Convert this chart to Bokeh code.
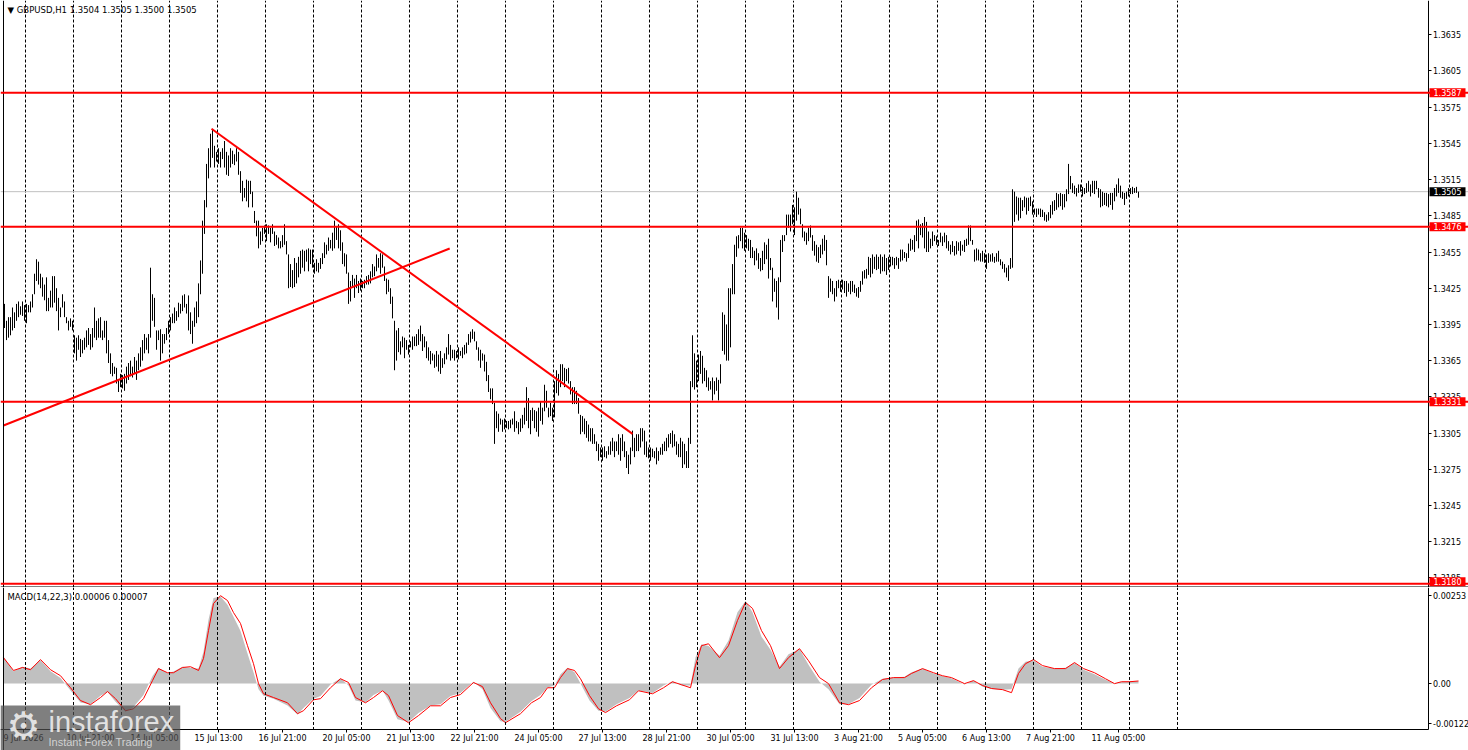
from bokeh.plotting import figure
from bokeh.models import (Range1d, FixedTicker, Span, Label, NumeralTickFormatter,
                          ColumnDataSource, Grid, LinearAxis)
from bokeh.layouts import column
from bokeh.embed import file_html
from bokeh.resources import INLINE

# ---------------- texts ----------------
symbol_title = "\u25bc GBPUSD,H1  1.3504 1.3505 1.3500 1.3505"
macd_title = "MACD(14,22,3) 0.00006 0.00007"

# ---------------- hourly bars (GBPUSD H1) ----------------
high = [
    1.3412, 1.3398, 1.3401, 1.3401, 1.3409, 1.3405, 1.3412, 1.3414, 1.3410, 1.3414,
    1.3411, 1.3412, 1.3411, 1.3414, 1.3420, 1.3437, 1.3449, 1.3447, 1.3437, 1.3434,
    1.3428, 1.3434, 1.3417, 1.3423, 1.3435, 1.3435, 1.3425, 1.3417, 1.3409, 1.3420,
    1.3414, 1.3401, 1.3398, 1.3400, 1.3398, 1.3386, 1.3384, 1.3386, 1.3383, 1.3382,
    1.3384, 1.3390, 1.3392, 1.3387, 1.3392, 1.3409, 1.3398, 1.3400, 1.3401, 1.3390,
    1.3398, 1.3398, 1.3382, 1.3371, 1.3363, 1.3360, 1.3359, 1.3349, 1.3354, 1.3353,
    1.3354, 1.3360, 1.3363, 1.3365, 1.3360, 1.3368, 1.3365, 1.3371, 1.3376, 1.3382,
    1.3387, 1.3384, 1.3387, 1.3442, 1.3420, 1.3417, 1.3390, 1.3390, 1.3391, 1.3387,
    1.3387, 1.3392, 1.3398, 1.3401, 1.3404, 1.3409, 1.3406, 1.3413, 1.3412, 1.3419,
    1.3420, 1.3412, 1.3419, 1.3405, 1.3398, 1.3409, 1.3414, 1.3429, 1.3448, 1.3481,
    1.3498, 1.3528, 1.3541, 1.3553, 1.3557, 1.3543, 1.3538, 1.3541, 1.3538, 1.3541,
    1.3547, 1.3538, 1.3535, 1.3541, 1.3539, 1.3536, 1.3541, 1.3538, 1.3522, 1.3514,
    1.3508, 1.3515, 1.3514, 1.3514, 1.3505, 1.3489, 1.3481, 1.3481, 1.3472, 1.3475,
    1.3477, 1.3478, 1.3477, 1.3475, 1.3478, 1.3472, 1.3469, 1.3467, 1.3464, 1.3469,
    1.3478, 1.3464, 1.3453, 1.3445, 1.3440, 1.3450, 1.3446, 1.3451, 1.3456, 1.3457,
    1.3456, 1.3457, 1.3458, 1.3457, 1.3457, 1.3446, 1.3449, 1.3446, 1.3450, 1.3454,
    1.3463, 1.3461, 1.3467, 1.3465, 1.3471, 1.3481, 1.3476, 1.3478, 1.3473, 1.3463,
    1.3454, 1.3453, 1.3438, 1.3431, 1.3436, 1.3433, 1.3436, 1.3431, 1.3433, 1.3431,
    1.3432, 1.3435, 1.3436, 1.3439, 1.3445, 1.3443, 1.3453, 1.3450, 1.3454, 1.3453,
    1.3443, 1.3433, 1.3432, 1.3425, 1.3418, 1.3398, 1.3390, 1.3392, 1.3381, 1.3385,
    1.3384, 1.3382, 1.3378, 1.3381, 1.3385, 1.3385, 1.3387, 1.3391, 1.3394, 1.3387,
    1.3385, 1.3381, 1.3376, 1.3373, 1.3371, 1.3370, 1.3373, 1.3370, 1.3373, 1.3367,
    1.3371, 1.3376, 1.3387, 1.3378, 1.3374, 1.3374, 1.3373, 1.3376, 1.3373, 1.3376,
    1.3378, 1.3380, 1.3387, 1.3389, 1.3391, 1.3389, 1.3381, 1.3376, 1.3374, 1.3371,
    1.3370, 1.3364, 1.3353, 1.3342, 1.3342, 1.3330, 1.3323, 1.3321, 1.3317, 1.3316,
    1.3317, 1.3315, 1.3315, 1.3316, 1.3317, 1.3323, 1.3315, 1.3314, 1.3317, 1.3320,
    1.3326, 1.3343, 1.3334, 1.3324, 1.3326, 1.3324, 1.3323, 1.3326, 1.3331, 1.3326,
    1.3345, 1.3340, 1.3326, 1.3330, 1.3326, 1.3348, 1.3357, 1.3354, 1.3362, 1.3362,
    1.3359, 1.3358, 1.3359, 1.3348, 1.3343, 1.3343, 1.3340, 1.3334, 1.3320, 1.3319,
    1.3317, 1.3315, 1.3312, 1.3309, 1.3309, 1.3304, 1.3298, 1.3296, 1.3293, 1.3293,
    1.3294, 1.3290, 1.3294, 1.3298, 1.3301, 1.3298, 1.3298, 1.3304, 1.3301, 1.3304,
    1.3298, 1.3290, 1.3287, 1.3293, 1.3307, 1.3301, 1.3304, 1.3304, 1.3309, 1.3309,
    1.3307, 1.3298, 1.3293, 1.3293, 1.3292, 1.3290, 1.3293, 1.3290, 1.3293, 1.3296,
    1.3298, 1.3301, 1.3304, 1.3305, 1.3307, 1.3304, 1.3298, 1.3296, 1.3301, 1.3298,
    1.3296, 1.3290, 1.3301, 1.3348, 1.3386, 1.3371, 1.3365, 1.3370, 1.3373, 1.3369,
    1.3359, 1.3357, 1.3351, 1.3348, 1.3351, 1.3348, 1.3351, 1.3349, 1.3362, 1.3405,
    1.3403, 1.3395, 1.3425, 1.3425, 1.3445, 1.3461, 1.3468, 1.3469, 1.3475, 1.3475,
    1.3471, 1.3469, 1.3466, 1.3465, 1.3459, 1.3456, 1.3458, 1.3454, 1.3450, 1.3456,
    1.3463, 1.3461, 1.3466, 1.3450, 1.3442, 1.3433, 1.3431, 1.3434, 1.3465, 1.3469,
    1.3469, 1.3486, 1.3486, 1.3486, 1.3494, 1.3492, 1.3505, 1.3500, 1.3491, 1.3478,
    1.3472, 1.3471, 1.3475, 1.3477, 1.3469, 1.3464, 1.3461, 1.3459, 1.3461, 1.3466,
    1.3469, 1.3465, 1.3435, 1.3433, 1.3431, 1.3425, 1.3431, 1.3432, 1.3431, 1.3432,
    1.3431, 1.3431, 1.3429, 1.3431, 1.3431, 1.3428, 1.3425, 1.3426, 1.3431, 1.3439,
    1.3440, 1.3441, 1.3451, 1.3450, 1.3453, 1.3451, 1.3453, 1.3451, 1.3453, 1.3451,
    1.3453, 1.3450, 1.3451, 1.3451, 1.3451, 1.3450, 1.3451, 1.3450, 1.3457, 1.3457,
    1.3455, 1.3454, 1.3462, 1.3466, 1.3465, 1.3469, 1.3481, 1.3482, 1.3478, 1.3479,
    1.3484, 1.3480, 1.3472, 1.3466, 1.3472, 1.3469, 1.3468, 1.3465, 1.3471, 1.3468,
    1.3471, 1.3469, 1.3464, 1.3461, 1.3464, 1.3460, 1.3464, 1.3463, 1.3464, 1.3461,
    1.3465, 1.3466, 1.3477, 1.3477, 1.3465, 1.3457, 1.3458, 1.3457, 1.3454, 1.3456,
    1.3454, 1.3453, 1.3454, 1.3453, 1.3454, 1.3451, 1.3454, 1.3456, 1.3449, 1.3447,
    1.3445, 1.3442, 1.3444, 1.3450, 1.3507, 1.3505, 1.3501, 1.3500, 1.3500, 1.3498,
    1.3501, 1.3500, 1.3500, 1.3501, 1.3497, 1.3491, 1.3491, 1.3491, 1.3491, 1.3490,
    1.3488, 1.3486, 1.3488, 1.3494, 1.3497, 1.3498, 1.3504, 1.3503, 1.3504, 1.3503,
    1.3503, 1.3507, 1.3528, 1.3518, 1.3512, 1.3510, 1.3508, 1.3511, 1.3511, 1.3509,
    1.3508, 1.3512, 1.3514, 1.3511, 1.3514, 1.3514, 1.3514, 1.3508, 1.3507, 1.3505,
    1.3504, 1.3504, 1.3503, 1.3504, 1.3504, 1.3508, 1.3511, 1.3516, 1.3510, 1.3505,
    1.3504, 1.3505, 1.3508, 1.3508, 1.3509, 1.3508, 1.3509, 1.3505,
]
low = [
    1.3392, 1.3382, 1.3384, 1.3386, 1.3390, 1.3392, 1.3398, 1.3401, 1.3403, 1.3402,
    1.3398, 1.3396, 1.3405, 1.3405, 1.3409, 1.3420, 1.3431, 1.3428, 1.3425, 1.3418,
    1.3415, 1.3406, 1.3406, 1.3409, 1.3409, 1.3413, 1.3406, 1.3390, 1.3401, 1.3409,
    1.3401, 1.3396, 1.3390, 1.3393, 1.3390, 1.3371, 1.3365, 1.3374, 1.3368, 1.3371,
    1.3374, 1.3376, 1.3378, 1.3374, 1.3376, 1.3384, 1.3382, 1.3384, 1.3384, 1.3382,
    1.3384, 1.3371, 1.3363, 1.3354, 1.3352, 1.3354, 1.3346, 1.3339, 1.3343, 1.3342,
    1.3340, 1.3346, 1.3349, 1.3352, 1.3351, 1.3354, 1.3349, 1.3357, 1.3360, 1.3365,
    1.3371, 1.3374, 1.3371, 1.3384, 1.3398, 1.3393, 1.3374, 1.3382, 1.3365, 1.3371,
    1.3379, 1.3382, 1.3387, 1.3390, 1.3396, 1.3396, 1.3398, 1.3401, 1.3404, 1.3406,
    1.3409, 1.3404, 1.3390, 1.3387, 1.3379, 1.3393, 1.3396, 1.3401, 1.3420, 1.3437,
    1.3470, 1.3492, 1.3516, 1.3525, 1.3533, 1.3525, 1.3530, 1.3528, 1.3525, 1.3532,
    1.3525, 1.3519, 1.3518, 1.3525, 1.3528, 1.3527, 1.3530, 1.3519, 1.3504, 1.3497,
    1.3500, 1.3497, 1.3492, 1.3503, 1.3492, 1.3479, 1.3468, 1.3458, 1.3461, 1.3464,
    1.3470, 1.3464, 1.3470, 1.3463, 1.3470, 1.3460, 1.3461, 1.3458, 1.3458, 1.3459,
    1.3461, 1.3453, 1.3425, 1.3426, 1.3425, 1.3426, 1.3429, 1.3434, 1.3437, 1.3442,
    1.3439, 1.3447, 1.3439, 1.3445, 1.3442, 1.3437, 1.3439, 1.3438, 1.3441, 1.3445,
    1.3450, 1.3453, 1.3456, 1.3458, 1.3456, 1.3458, 1.3465, 1.3458, 1.3456, 1.3445,
    1.3443, 1.3437, 1.3412, 1.3414, 1.3426, 1.3417, 1.3425, 1.3421, 1.3423, 1.3425,
    1.3425, 1.3428, 1.3428, 1.3429, 1.3434, 1.3435, 1.3439, 1.3442, 1.3437, 1.3442,
    1.3431, 1.3420, 1.3422, 1.3412, 1.3400, 1.3357, 1.3365, 1.3372, 1.3370, 1.3376,
    1.3367, 1.3374, 1.3370, 1.3376, 1.3374, 1.3377, 1.3377, 1.3378, 1.3381, 1.3373,
    1.3376, 1.3367, 1.3365, 1.3362, 1.3365, 1.3359, 1.3360, 1.3356, 1.3354, 1.3359,
    1.3362, 1.3366, 1.3370, 1.3365, 1.3367, 1.3365, 1.3367, 1.3366, 1.3369, 1.3367,
    1.3370, 1.3371, 1.3378, 1.3380, 1.3383, 1.3381, 1.3374, 1.3365, 1.3359, 1.3365,
    1.3356, 1.3348, 1.3339, 1.3333, 1.3329, 1.3296, 1.3309, 1.3306, 1.3312, 1.3306,
    1.3308, 1.3309, 1.3308, 1.3309, 1.3312, 1.3306, 1.3309, 1.3304, 1.3306, 1.3309,
    1.3312, 1.3315, 1.3309, 1.3304, 1.3315, 1.3309, 1.3306, 1.3302, 1.3315, 1.3312,
    1.3323, 1.3326, 1.3318, 1.3319, 1.3315, 1.3318, 1.3338, 1.3336, 1.3343, 1.3348,
    1.3343, 1.3348, 1.3346, 1.3337, 1.3329, 1.3329, 1.3329, 1.3321, 1.3304, 1.3306,
    1.3304, 1.3301, 1.3298, 1.3298, 1.3296, 1.3296, 1.3290, 1.3282, 1.3285, 1.3282,
    1.3285, 1.3284, 1.3287, 1.3287, 1.3290, 1.3285, 1.3290, 1.3287, 1.3282, 1.3290,
    1.3285, 1.3276, 1.3271, 1.3279, 1.3290, 1.3285, 1.3290, 1.3290, 1.3293, 1.3298,
    1.3287, 1.3285, 1.3284, 1.3282, 1.3285, 1.3284, 1.3279, 1.3282, 1.3287, 1.3287,
    1.3290, 1.3290, 1.3293, 1.3296, 1.3293, 1.3294, 1.3287, 1.3285, 1.3285, 1.3276,
    1.3279, 1.3276, 1.3276, 1.3296, 1.3343, 1.3341, 1.3343, 1.3348, 1.3354, 1.3346,
    1.3348, 1.3343, 1.3340, 1.3341, 1.3332, 1.3337, 1.3340, 1.3332, 1.3346, 1.3373,
    1.3370, 1.3365, 1.3365, 1.3376, 1.3420, 1.3420, 1.3451, 1.3458, 1.3464, 1.3458,
    1.3456, 1.3458, 1.3456, 1.3450, 1.3450, 1.3444, 1.3448, 1.3441, 1.3439, 1.3440,
    1.3445, 1.3449, 1.3433, 1.3440, 1.3414, 1.3422, 1.3409, 1.3399, 1.3430, 1.3455,
    1.3464, 1.3469, 1.3475, 1.3472, 1.3478, 1.3469, 1.3481, 1.3486, 1.3478, 1.3467,
    1.3464, 1.3461, 1.3464, 1.3467, 1.3456, 1.3452, 1.3447, 1.3446, 1.3450, 1.3453,
    1.3456, 1.3444, 1.3417, 1.3422, 1.3420, 1.3414, 1.3418, 1.3425, 1.3422, 1.3424,
    1.3421, 1.3418, 1.3422, 1.3420, 1.3422, 1.3421, 1.3418, 1.3417, 1.3422, 1.3428,
    1.3433, 1.3433, 1.3436, 1.3434, 1.3437, 1.3441, 1.3440, 1.3441, 1.3437, 1.3439,
    1.3439, 1.3436, 1.3440, 1.3443, 1.3444, 1.3441, 1.3444, 1.3441, 1.3447, 1.3448,
    1.3450, 1.3447, 1.3450, 1.3456, 1.3457, 1.3455, 1.3464, 1.3458, 1.3469, 1.3467,
    1.3458, 1.3455, 1.3455, 1.3458, 1.3460, 1.3464, 1.3461, 1.3460, 1.3463, 1.3460,
    1.3463, 1.3458, 1.3456, 1.3453, 1.3455, 1.3452, 1.3453, 1.3456, 1.3452, 1.3456,
    1.3455, 1.3460, 1.3461, 1.3464, 1.3461, 1.3447, 1.3448, 1.3448, 1.3447, 1.3447,
    1.3446, 1.3441, 1.3446, 1.3447, 1.3447, 1.3446, 1.3447, 1.3447, 1.3444, 1.3441,
    1.3438, 1.3434, 1.3431, 1.3441, 1.3442, 1.3480, 1.3486, 1.3481, 1.3483, 1.3489,
    1.3492, 1.3486, 1.3489, 1.3493, 1.3486, 1.3486, 1.3484, 1.3486, 1.3484, 1.3484,
    1.3481, 1.3480, 1.3481, 1.3483, 1.3486, 1.3489, 1.3490, 1.3492, 1.3493, 1.3490,
    1.3492, 1.3497, 1.3503, 1.3507, 1.3504, 1.3503, 1.3501, 1.3504, 1.3505, 1.3501,
    1.3503, 1.3504, 1.3505, 1.3501, 1.3504, 1.3503, 1.3507, 1.3500, 1.3492, 1.3493,
    1.3494, 1.3493, 1.3492, 1.3494, 1.3490, 1.3497, 1.3501, 1.3504, 1.3500, 1.3499,
    1.3494, 1.3499, 1.3501, 1.3503, 1.3503, 1.3504, 1.3504, 1.3500,
]

# horizontal levels, bid line, trend lines (bar index / price)
levels = [1.3587, 1.3476, 1.3331, 1.3180]
bid_price = 1.3505
trend_down_idx = [103.5, 314.0]
trend_down_price = [1.35571, 1.33043]
trend_up_idx = [-0.5, 222.6]
trend_up_price = [1.33112, 1.34579]

price_ticks = [1.3185, 1.3215, 1.3245, 1.3275, 1.3305, 1.3335, 1.3365, 1.3395,
               1.3425, 1.3455, 1.3485, 1.3515, 1.3545, 1.3575, 1.3605, 1.3635]

time_tick_idx = [9.5, 43, 75, 107, 139, 171, 203, 235, 267, 299, 331, 363, 395,
                 427, 459, 491, 523, 557]
time_tick_labels = ["9 Jul 2026", "10 Jul 21:00", "14 Jul 05:00", "15 Jul 13:00",
                    "16 Jul 21:00", "20 Jul 05:00", "21 Jul 13:00", "22 Jul 21:00",
                    "24 Jul 05:00", "27 Jul 13:00", "28 Jul 21:00", "30 Jul 05:00",
                    "31 Jul 13:00", "3 Aug 21:00", "5 Aug 05:00", "6 Aug 13:00",
                    "7 Aug 21:00", "11 Aug 05:00"]

# MACD(14,22,3): main (grey histogram) and signal (red line), sampled along the bars
macd_idx = [-0.5, 4.5, 9, 13, 18, 23, 28, 33, 38, 43, 48, 51.5, 55.5, 60.5, 64.5, 69.5,
            74, 77, 81.5, 84.5, 89, 93, 97, 99.5, 102, 104.5, 108, 111.5, 114.5, 118,
            121.5, 124.5, 127, 129.5, 134.5, 141.5, 146.5, 149.5, 154.5, 158, 163, 168,
            172, 175.5, 180.5, 184.5, 189, 192, 196.5, 202, 207, 213, 218, 223, 228,
            234.5, 239, 243, 248, 250.5, 258, 263.5, 268, 271.5, 275, 278, 281.5, 285,
            288, 292.5, 297, 300.5, 306, 312.5, 317, 324, 329.5, 334, 338.5, 343, 345.5,
            348.5, 352, 357.5, 362, 366.5, 370.5, 374, 378.5, 383, 387.5, 392, 397.5,
            402, 407.5, 412, 417.5, 422, 427.5, 433.5, 439, 444.5, 450, 453.5, 459,
            464.5, 469, 473.5, 480, 484.5, 489, 493.5, 499, 503.5, 507, 510.5, 514.5,
            519, 525, 530.5, 535, 539.5, 545, 550.5, 555, 558.5, 562.5, 567]
macd_hist = [0.00072, 0.00033, 0.00045, 0.00040, 0.00062, 0.00033, 0.00015, -0.00018, -0.00050, -0.00055,
             -0.00032, -0.00022, -0.00048, -0.00075, -0.00062, -0.00030, 0.00020, 0.00042, 0.00028, 0.00032,
             0.00045, 0.00042, 0.00040, 0.00085, 0.00170, 0.00228, 0.00232, 0.00210, 0.00178, 0.00140,
             0.00080, 0.00030, -0.00015, -0.00032, -0.00040, -0.00058, -0.00082, -0.00065, -0.00040, -0.00033,
             -0.00002, 0.00014, -0.00005, -0.00045, -0.00050, -0.00030, -0.00018, -0.00045, -0.00095, -0.00102,
             -0.00078, -0.00058, -0.00055, -0.00033, -0.00025, 0.00005, -0.00015, -0.00065, -0.00100, -0.00102,
             -0.00075, -0.00046, -0.00030, -0.00010, -0.00005, 0.00025, 0.00042, 0.00030, 0.00000, -0.00045,
             -0.00072, -0.00075, -0.00055, -0.00038, -0.00018, -0.00025, -0.00005, 0.00006, -0.00005, -0.00005,
             0.00070, 0.00105, 0.00100, 0.00075, 0.00115, 0.00190, 0.00220, 0.00190, 0.00125, 0.00090,
             0.00045, 0.00078, 0.00092, 0.00050, 0.00005, -0.00015, -0.00055, -0.00055, -0.00038, -0.00003,
             0.00013, 0.00016, 0.00018, 0.00030, 0.00040, 0.00027, 0.00020, 0.00014, -0.00002, 0.00008,
             -0.00008, -0.00014, -0.00016, -0.00015, 0.00040, 0.00058, 0.00062, 0.00045, 0.00040, 0.00042,
             0.00055, 0.00037, 0.00025, 0.00010, 0.00000, 0.00005, 0.00006, 0.00006]
macd_signal = [0.00069, 0.00035, 0.00043, 0.00037, 0.00064, 0.00037, 0.00021, -0.00011, -0.00045, -0.00056,
               -0.00037, -0.00021, -0.00040, -0.00072, -0.00067, -0.00040, 0.00008, 0.00040, 0.00029, 0.00029,
               0.00043, 0.00045, 0.00035, 0.00067, 0.00141, 0.00213, 0.00234, 0.00221, 0.00189, 0.00160,
               0.00101, 0.00053, 0.00000, -0.00027, -0.00037, -0.00051, -0.00080, -0.00072, -0.00043, -0.00040,
               -0.00011, 0.00013, 0.00003, -0.00037, -0.00051, -0.00037, -0.00019, -0.00032, -0.00085, -0.00104,
               -0.00085, -0.00059, -0.00059, -0.00037, -0.00029, 0.00003, -0.00008, -0.00051, -0.00093, -0.00104,
               -0.00080, -0.00051, -0.00037, -0.00011, -0.00011, 0.00016, 0.00040, 0.00035, 0.00013, -0.00032,
               -0.00067, -0.00077, -0.00059, -0.00043, -0.00019, -0.00027, -0.00011, 0.00005, -0.00003, -0.00011,
               0.00048, 0.00101, 0.00106, 0.00069, 0.00101, 0.00168, 0.00216, 0.00200, 0.00141, 0.00101,
               0.00040, 0.00069, 0.00093, 0.00061, 0.00016, 0.00000, -0.00051, -0.00056, -0.00045, -0.00011,
               0.00011, 0.00016, 0.00016, 0.00027, 0.00040, 0.00029, 0.00021, 0.00016, 0.00000, 0.00008,
               -0.00005, -0.00013, -0.00016, -0.00024, 0.00027, 0.00053, 0.00064, 0.00048, 0.00040, 0.00040,
               0.00056, 0.00040, 0.00029, 0.00013, 0.00000, 0.00005, 0.00005, 0.00007]
macd_top, macd_bottom = 0.00253, -0.00122

# ---------------- layout / style constants ----------------
FONT = "DejaVu Sans"
AX_FS = "8px"
W = 1468
X0 = -2.0                  # bar i sits at 4 + 2*i px (2 px per hourly bar)
X1 = X0 + W / 2.0
AXIS_X = 711.75            # price scale line (x = 1427.5 px)
LEFT_X = -0.5              # left chart border (x = 3 px)
grid_idx = [10.5 + 24 * k for k in range(25)]   # daily dotted grid lines
RED = "#FF0000"

MAIN_Y = (1.317698, 1.366342)       # main frame 0..587 px
MAIN_BORDER = 1.317739              # separator line at 586.5 px
MACD_Y = (-0.001779, 0.002557)      # macd frame 587..750 px
MACD_AXIS_Y = -0.001233             # time axis line at 729.5 px


def style_axis(ax, standoff=2):
    ax.major_label_text_font = FONT
    ax.major_label_text_font_size = AX_FS
    ax.major_label_text_color = "black"
    ax.axis_line_color = "black"
    ax.major_tick_line_color = "black"
    ax.major_tick_out = 3
    ax.major_tick_in = 0
    ax.minor_tick_out = 0
    ax.minor_tick_in = 0
    ax.major_label_standoff = standoff


def overrides(ticks, labels):
    d = {}
    for t, s in zip(ticks, labels):
        d[t] = s
        d[str(t)] = s
    return d


def base_fig(h, yr, xr):
    f = figure(frame_width=W, frame_height=h, x_range=xr, y_range=Range1d(*yr),
               output_backend="svg", toolbar_location=None, title=None,
               x_axis_location=None, y_axis_location="right",
               min_border_left=0, min_border_right=0, min_border_top=0, min_border_bottom=0,
               background_fill_color="white", border_fill_color="white",
               outline_line_color=None)
    f.grid.visible = False
    return f


# ---------------- main price panel ----------------
bars = ColumnDataSource(dict(x=list(range(len(high))), high=high, low=low))

p = base_fig(587, MAIN_Y, Range1d(X0, X1))
p.add_layout(Grid(dimension=0, ticker=FixedTicker(ticks=grid_idx),
                  grid_line_color="black", grid_line_dash="3 2", grid_line_width=1))
p.add_layout(Span(location=bid_price, dimension="width", line_color="#C0C0C0",
                  line_width=1, level="underlay"))
p.add_layout(Span(location=LEFT_X, dimension="height", line_color="black", line_width=1))
p.add_layout(Span(location=MAIN_BORDER, dimension="width", line_color="black", line_width=1))
p.segment(x0="x", y0="low", x1="x", y1="high", source=bars,
          line_color="black", line_width=1)
for lv in levels:
    p.add_layout(Span(location=lv, dimension="width", line_color=RED, line_width=2))
p.line(trend_down_idx, trend_down_price, line_color=RED, line_width=2)
p.line(trend_up_idx, trend_up_price, line_color=RED, line_width=2)

yax = p.yaxis[0]
style_axis(yax)
yax.fixed_location = AXIS_X
yax.ticker = FixedTicker(ticks=price_ticks)
yax.formatter = NumeralTickFormatter(format="0.0000")

for lv in levels:
    p.add_layout(Label(x=AXIS_X, y=lv, text=f"{lv:.4f}", x_offset=1.5,
                       y_offset=2 if lv == min(levels) else 0,
                       text_align="left", text_baseline="middle",
                       text_font=FONT, text_font_size=AX_FS, text_color="white",
                       background_fill_color=RED, background_fill_alpha=1.0,
                       padding=dict(left=4, right=4, top=1, bottom=1)))
p.add_layout(Label(x=AXIS_X, y=bid_price, text=f"{bid_price:.4f}", x_offset=1.5,
                   text_align="left", text_baseline="middle",
                   text_font=FONT, text_font_size=AX_FS, text_color="white",
                   background_fill_color="black", background_fill_alpha=1.0,
                   padding=dict(left=4, right=4, top=1, bottom=1)))
p.add_layout(Label(x=1.5, y=1.365514, text=symbol_title,
                   text_align="left", text_baseline="middle",
                   text_font=FONT, text_font_size="8.5px", text_color="black"))

# ---------------- MACD panel ----------------
p2 = base_fig(163, MACD_Y, p.x_range)
p2.add_layout(Span(location=LEFT_X, dimension="height", line_color="black", line_width=1))
p2.varea(x=macd_idx, y1=0, y2=macd_hist, fill_color="#C0C0C0")
p2.line(macd_idx, macd_signal, line_color=RED, line_width=1)
p2.segment(x0=grid_idx, x1=grid_idx, y0=[MACD_AXIS_Y] * len(grid_idx),
           y1=[MACD_Y[1]] * len(grid_idx),
           line_color="black", line_dash="3 2", line_width=1)

mticks = [0.002344, 0, -0.00106]
mlabels = [f"{macd_top:.5f}", "0.00", f"{macd_bottom:.5f}"]
ax2 = p2.yaxis[0]
style_axis(ax2)
ax2.fixed_location = AXIS_X
ax2.bounds = (MACD_AXIS_Y, MACD_Y[1])
ax2.ticker = FixedTicker(ticks=mticks)
ax2.major_label_overrides = overrides(mticks, mlabels)

bx = LinearAxis()
p2.add_layout(bx, "below")
style_axis(bx, standoff=1)
bx.fixed_location = MACD_AXIS_Y
bx.bounds = (X0, AXIS_X)
bx.ticker = FixedTicker(ticks=time_tick_idx)
bx.major_label_overrides = overrides(time_tick_idx, time_tick_labels)

p2.add_layout(Label(x=1.5, y=0.002317, text=macd_title,
                    text_align="left", text_baseline="middle",
                    text_font=FONT, text_font_size="8.5px", text_color="black"))

# watermark logo
p2.add_layout(Label(x=X0, y=-0.000582, text="instaforex", x_offset=0,
                    text_align="left", text_baseline="top",
                    text_font="Liberation Sans", text_font_size="29px",
                    text_color="#E8E8E8", text_alpha=0.95,
                    background_fill_color="#4D4D4D", background_fill_alpha=0.72,
                    padding=dict(left=48, right=6, top=0, bottom=13)))
p2.add_layout(Label(x=X0, y=-0.00114, text="\u2699", x_offset=6,
                    text_align="left", text_baseline="middle",
                    text_font="DejaVu Sans", text_font_size="38px",
                    text_color="#E8E8E8", text_alpha=0.95))
p2.add_layout(Label(x=X0, y=-0.001380, text="Instant Forex Trading", x_offset=48,
                    text_align="left", text_baseline="top",
                    text_font="Liberation Sans", text_font_size="11px",
                    text_color="#D8D8D8", text_alpha=0.95))

layout = column(p, p2)
open("out.html", "w").write(file_html(layout, INLINE))
